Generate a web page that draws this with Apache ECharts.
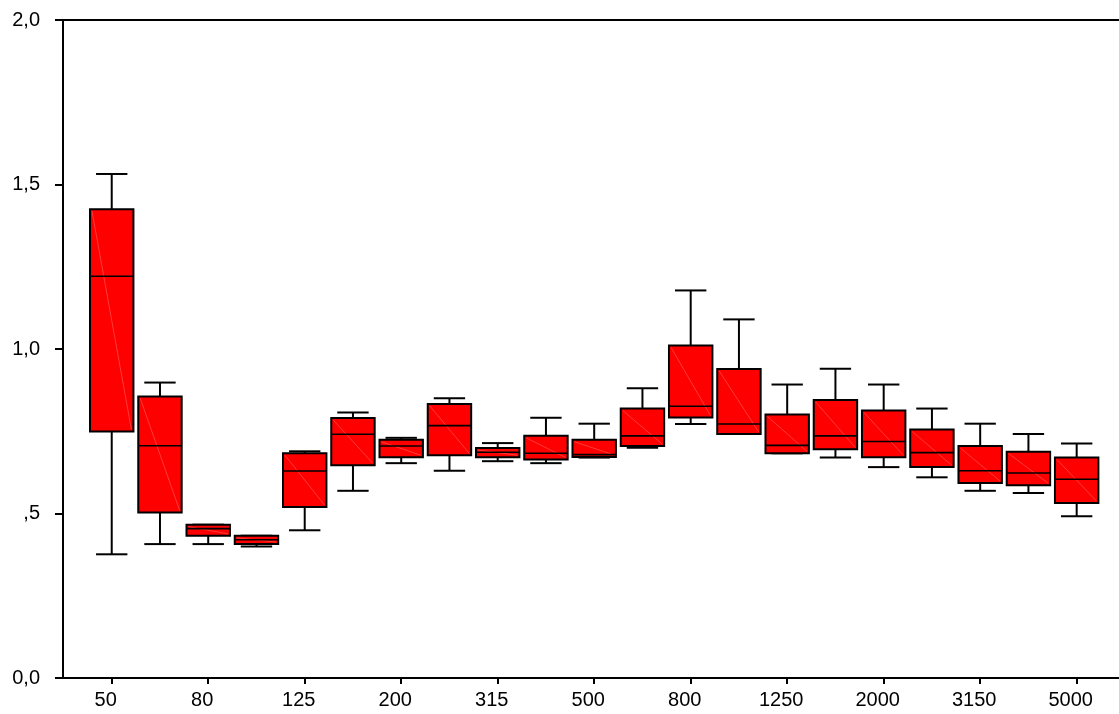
<!DOCTYPE html>
<html><head><meta charset="utf-8">
<script src="https://cdn.jsdelivr.net/npm/echarts@6/dist/echarts.min.js"></script>
<style>html,body{margin:0;padding:0;background:#fff}#c{width:1119px;height:714px}</style>
</head><body><div id="c"></div>
<script>
const categories = ['50','63','80','100','125','160','200','250','315','400','500','630','800','1000','1250','1600','2000','2500','3150','4000','5000'];
const whiskerLow  = [0.376,0.407,0.407,0.400,0.449,0.569,0.653,0.630,0.659,0.653,0.670,0.700,0.772,0.742,0.683,0.670,0.641,0.610,0.569,0.562,0.492];
const q1          = [0.749,0.503,0.432,0.407,0.520,0.647,0.671,0.677,0.671,0.664,0.672,0.705,0.792,0.742,0.683,0.695,0.671,0.641,0.593,0.586,0.532];
const median      = [1.221,0.706,0.454,0.420,0.629,0.741,0.705,0.767,0.686,0.683,0.679,0.736,0.826,0.772,0.707,0.736,0.719,0.685,0.630,0.623,0.604];
const q3          = [1.425,0.856,0.466,0.432,0.683,0.790,0.724,0.833,0.699,0.736,0.724,0.819,1.011,0.939,0.801,0.845,0.813,0.755,0.705,0.688,0.670];
const whiskerHigh = [1.532,0.898,0.466,0.432,0.689,0.807,0.730,0.850,0.714,0.791,0.773,0.881,1.178,1.090,0.892,0.940,0.892,0.819,0.773,0.742,0.713];
const yTickLabels = ['0,0', ',5', '1,0', '1,5', '2,0'];

const chart = echarts.init(document.getElementById('c'), null, {renderer: 'canvas'});
const FONT = 'Liberation Sans, Arial, sans-serif';
const boxData = categories.map((c, i) => [i, whiskerLow[i], q1[i], median[i], q3[i], whiskerHigh[i]]);

function renderItem(params, api) {
  const i = api.value(0);
  const xc = api.coord([i, 0])[0];
  const band = api.size([1, 0])[0];
  const bw = band * 0.9, cw = band * 0.65;
  const yLo = api.coord([i, api.value(1)])[1];
  const yQ1 = api.coord([i, api.value(2)])[1];
  const yMed = api.coord([i, api.value(3)])[1];
  const yQ3 = api.coord([i, api.value(4)])[1];
  const yHi = api.coord([i, api.value(5)])[1];
  const ls = {stroke: '#000', lineWidth: 2};
  return {
    type: 'group',
    children: [
      {type: 'line', shape: {x1: xc, y1: yQ3, x2: xc, y2: yHi}, style: ls},
      {type: 'line', shape: {x1: xc - cw/2, y1: yHi, x2: xc + cw/2, y2: yHi}, style: ls},
      {type: 'line', shape: {x1: xc, y1: yQ1, x2: xc, y2: yLo}, style: ls},
      {type: 'line', shape: {x1: xc - cw/2, y1: yLo, x2: xc + cw/2, y2: yLo}, style: ls},
      {type: 'rect', shape: {x: xc - bw/2, y: yQ3, width: bw, height: Math.max(yQ1 - yQ3, 1)},
        style: {fill: '#ff0000', stroke: '#000', lineWidth: 2}},
      {type: 'line', shape: {x1: xc - bw/2 + 2, y1: yQ3 + 2, x2: xc + bw/2 - 2, y2: yQ1 - 2},
        style: {stroke: 'rgba(255,140,140,0.7)', lineWidth: 0.6}},
      {type: 'line', shape: {x1: xc - bw/2, y1: yMed, x2: xc + bw/2, y2: yMed}, style: {stroke: '#000', lineWidth: 1.6}}
    ]
  };
}

chart.setOption({
  animation: false,
  backgroundColor: '#fff',
  grid: [
    {left: 63, right: 0, top: 20, bottom: 36},
    {left: 87.6, right: 18.2, top: 20, bottom: 36}
  ],
  xAxis: [
    {gridIndex: 0, type: 'value', min: 0, max: 1, position: 'bottom',
      axisLine: {show: true, lineStyle: {color: '#000', width: 2}},
      axisTick: {show: false}, axisLabel: {show: false}, splitLine: {show: false}},
    {gridIndex: 0, type: 'value', min: 0, max: 1, position: 'top',
      axisLine: {show: true, lineStyle: {color: '#000', width: 2}},
      axisTick: {show: false}, axisLabel: {show: false}, splitLine: {show: false}},
    {gridIndex: 1, type: 'category', data: categories, boundaryGap: true,
      axisLine: {show: false},
      axisTick: {show: true, interval: 1, alignWithLabel: true, length: 6, lineStyle: {color: '#000', width: 2}},
      axisLabel: {interval: 1, color: '#000', fontSize: 20, fontFamily: FONT, margin: 12, padding: [0, 12, 0, 0]},
      splitLine: {show: false}}
  ],
  yAxis: [
    {gridIndex: 0, type: 'value', min: 0, max: 2, interval: 0.5,
      axisLine: {show: true, lineStyle: {color: '#000', width: 2}},
      axisTick: {show: true, length: 8, lineStyle: {color: '#000', width: 2}},
      axisLabel: {color: '#000', fontSize: 20, fontFamily: FONT, margin: 23,
        formatter: (v) => yTickLabels[Math.round(v / 0.5)]},
      splitLine: {show: false}},
    {gridIndex: 1, type: 'value', min: 0, max: 2, interval: 0.5, show: false}
  ],
  series: [{
    type: 'custom',
    xAxisIndex: 2, yAxisIndex: 1,
    renderItem: renderItem,
    encode: {x: 0, y: [1, 2, 3, 4, 5]},
    data: boxData,
    clip: false
  }]
});
</script></body></html>
